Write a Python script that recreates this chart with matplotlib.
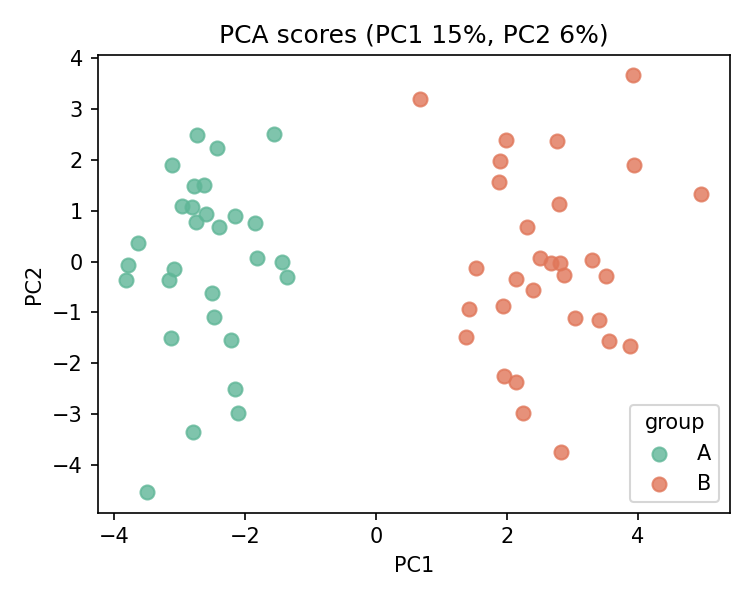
import numpy as np
import matplotlib
matplotlib.use("Agg")
import matplotlib.pyplot as plt
from matplotlib.ticker import MultipleLocator

# PCA scores
pc1_a = [-2.73, -1.56, -2.42, -3.11, -2.78, -2.63, -2.96, -2.81, -2.59, -2.74,
         -2.39, -2.15, -1.84, -3.63, -3.78, -3.81, -3.08, -3.15, -1.81, -1.44,
         -1.36, -2.50, -2.47, -3.13, -2.21, -2.15, -2.10, -2.79, -3.49]
pc2_a = [2.48, 2.50, 2.23, 1.89, 1.48, 1.51, 1.09, 1.07, 0.93, 0.77,
         0.68, 0.89, 0.75, 0.36, -0.07, -0.37, -0.15, -0.37, 0.07, -0.01,
         -0.31, -0.62, -1.09, -1.50, -1.54, -2.51, -2.98, -3.35, -4.53]

pc1_b = [3.92, 0.67, 1.98, 2.77, 1.90, 3.94, 1.88, 4.96, 2.80, 2.30,
         2.50, 2.67, 2.81, 3.30, 1.52, 2.87, 3.51, 2.13, 2.40, 1.42,
         1.94, 3.03, 3.41, 3.55, 3.87, 1.38, 1.96, 2.13, 2.25, 2.82]
pc2_b = [3.66, 3.19, 2.39, 2.37, 1.97, 1.89, 1.56, 1.33, 1.13, 0.68,
         0.07, -0.03, -0.03, 0.03, -0.13, -0.27, -0.29, -0.34, -0.56, -0.94,
         -0.88, -1.11, -1.15, -1.56, -1.66, -1.49, -2.25, -2.37, -2.98, -3.74]

colors = {"A": "#5fb697", "B": "#e07659"}

fig, ax = plt.subplots(figsize=(5, 4), dpi=150)
fig.subplots_adjust(left=0.130, right=0.973, top=0.909, bottom=0.1455)

ax.scatter(pc1_a, pc2_a, s=45, color=colors["A"], alpha=0.8, label="A")
ax.scatter(pc1_b, pc2_b, s=45, color=colors["B"], alpha=0.8, label="B")

ax.yaxis.set_major_locator(MultipleLocator(1))
ax.set_xlabel("PC1")
ax.set_ylabel("PC2")
ax.set_title("PCA scores (PC1 15%, PC2 6%)")
ax.legend(title="group", loc="lower right")

fig.savefig("out.png", dpi=150)
